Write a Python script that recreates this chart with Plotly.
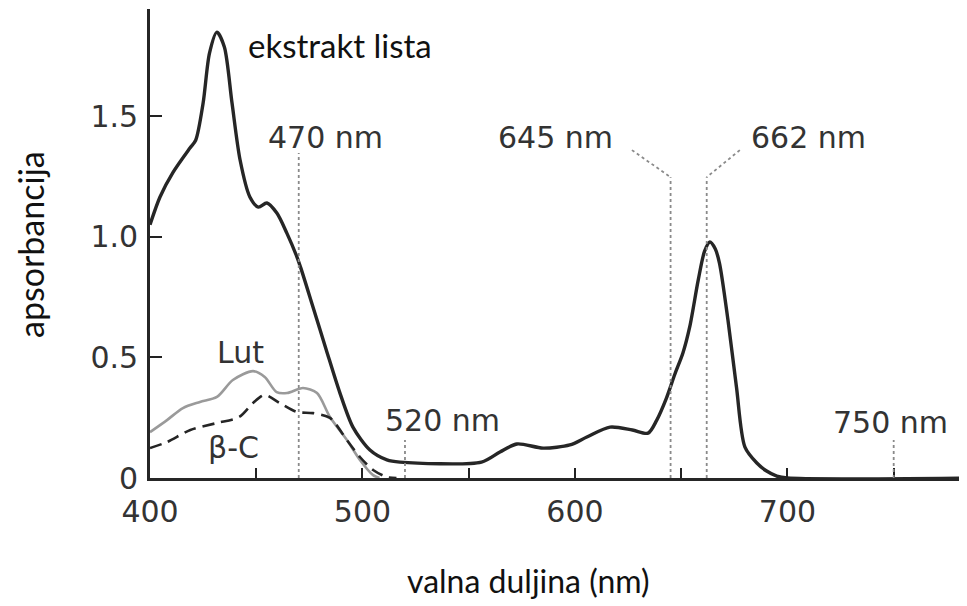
import plotly.graph_objects as go

# ---- data ----
ext_nm = [400, 404.7, 410.9, 418.8, 421.5, 425, 428, 431.5, 435, 438.6, 442.4, 447, 451, 455,
          459.7, 464.4, 469, 471, 476.7, 483, 489.4, 495.5, 503.5, 511.5, 517.6, 556, 564.7,
          572.7, 585, 597.6, 605.6, 616.5, 627, 634.4, 638.5, 643, 647, 650.8, 654, 658, 661,
          663.5, 666, 668, 672, 676, 680, 685.6, 690, 695, 700, 785]
ext_abs = [1.05, 1.165, 1.268, 1.368, 1.40, 1.554, 1.761, 1.848, 1.786, 1.554, 1.318, 1.165,
           1.123, 1.14, 1.098, 1.015, 0.92, 0.87, 0.709, 0.53, 0.352, 0.211, 0.116, 0.075,
           0.066, 0.066, 0.108, 0.141, 0.124, 0.137, 0.17, 0.211, 0.199, 0.186, 0.24, 0.33,
           0.43, 0.518, 0.626, 0.82, 0.94, 0.978, 0.95, 0.891, 0.655, 0.377, 0.128, 0.062,
           0.03, 0.008, 0.0, 0.0]

lut_nm = [400, 408, 415.5, 423.5, 431.5, 439, 448.5, 454, 459.6, 464.5, 472, 478.6, 484.7,
          492.7, 498.8, 505, 508]
lut_abs = [0.19, 0.24, 0.29, 0.315, 0.336, 0.406, 0.443, 0.419, 0.356, 0.352, 0.373, 0.352,
           0.253, 0.157, 0.075, 0.012, 0.0]

bc_nm = [400, 408, 419, 431.5, 442, 448.5, 454, 461, 469, 476.7, 484.7, 492.7, 498.8, 505,
         511.5, 516]
bc_abs = [0.124, 0.149, 0.199, 0.228, 0.253, 0.311, 0.344, 0.311, 0.274, 0.269, 0.249, 0.157,
          0.087, 0.033, 0.004, 0.0]

marker_nm = [470, 520, 645, 662, 750]
marker_text = ["470 nm", "520 nm", "645 nm", "662 nm", "750 nm"]

x_tickvals = [400, 450, 500, 550, 600, 650, 700, 750]
x_ticktext = ["400", "", "500", "", "600", "", "700", ""]
y_tickvals = [0, 0.5, 1.0, 1.5]
y_ticktext = ["0", "0.5", "1.0", "1.5"]

# ---- figure ----
fig = go.Figure()
fig.add_trace(go.Scatter(x=lut_nm, y=lut_abs, mode="lines", name="Lut",
                         line=dict(color="#9a9a9a", width=2.6, shape="spline", smoothing=0.8)))
fig.add_trace(go.Scatter(x=bc_nm, y=bc_abs, mode="lines", name="β-C",
                         line=dict(color="#252525", width=2.6, dash="12px,7px",
                                   shape="spline", smoothing=0.8)))
fig.add_trace(go.Scatter(x=ext_nm, y=ext_abs, mode="lines", name="ekstrakt lista",
                         line=dict(color="#262626", width=3.4, shape="spline", smoothing=0.8)))

dot = dict(color="#8a8a8a", width=1.8, dash="dot")
tops = {470: 1.347, 520: 0.157, 645: 1.247, 662: 1.247, 750: 0.157}
for nm in marker_nm:
    fig.add_shape(type="line", x0=nm, x1=nm, y0=0, y1=tops[nm], xref="x", yref="y", line=dot)
fig.add_shape(type="line", x0=626.8, y0=1.359, x1=645, y1=1.247, xref="x", yref="y", line=dot)
fig.add_shape(type="line", x0=677.6, y0=1.359, x1=662, y1=1.247, xref="x", yref="y", line=dot)

lab_font = dict(family="DejaVu Sans", size=30, color="#333333")
label_pos = {470: (482.4, 1.413), 520: (537.5, 0.24), 645: (591, 1.413), 662: (710, 1.413),
             750: (748.7, 0.232)}
for nm, txt in zip(marker_nm, marker_text):
    x, y = label_pos[nm]
    fig.add_annotation(x=x, y=y, text=txt, showarrow=False, font=lab_font,
                       xanchor="center", yanchor="middle")

fig.add_annotation(x=442.8, y=0.522, text="Lut", showarrow=False, font=lab_font,
                   xanchor="center", yanchor="middle")
fig.add_annotation(x=439.5, y=0.128, text="β-C", showarrow=False, font=lab_font,
                   xanchor="center", yanchor="middle")
fig.add_annotation(x=445.2, y=1.795, text="ekstrakt lista", showarrow=False,
                   font=dict(family="Lato", size=33, color="#111111"),
                   xanchor="left", yanchor="middle")

# the page body adds an 8 px margin; plot area in page pixels: x 150..967, y 9..478
W, H = 959, 598
L, T, B = 142, 1, 128
PW, PH = 967 - 150, 478 - 9
title_font_x = dict(family="Lato", size=32, color="#111111")
title_font_y = dict(family="Lato", size=34, color="#111111")
fig.add_annotation(x=(528 - 150) / PW, y=-(580 - 478) / PH,
                   xref="paper", yref="paper", text="valna duljina (nm)",
                   showarrow=False, font=title_font_x,
                   xanchor="center", yanchor="middle")
fig.add_annotation(x=-(150 - 30) / PW, y=(478 - 245) / PH,
                   xref="paper", yref="paper", text="apsorbancija", textangle=-90,
                   showarrow=False, font=title_font_y,
                   xanchor="center", yanchor="middle")

fig.update_layout(
    width=W, height=H,
    margin=dict(l=L, r=0, t=T, b=B),
    paper_bgcolor="white", plot_bgcolor="white",
    showlegend=False,
    xaxis=dict(range=[400, 784.5], tickvals=x_tickvals, ticktext=x_ticktext,
               ticks="inside", ticklen=10, tickwidth=2.2, tickcolor="#222",
               showline=True, linecolor="#262626", linewidth=2.6, showgrid=False,
               zeroline=False, tickfont=lab_font, ticklabelstandoff=5, automargin=False),
    yaxis=dict(range=[0, 1.944], tickvals=y_tickvals, ticktext=y_ticktext,
               ticks="inside", ticklen=12, tickwidth=2.2, tickcolor="#222",
               showline=True, linecolor="#262626", linewidth=2.6, showgrid=False,
               zeroline=False, tickfont=lab_font, ticklabelstandoff=3, automargin=False),
)

fig.write_html("out.html")
